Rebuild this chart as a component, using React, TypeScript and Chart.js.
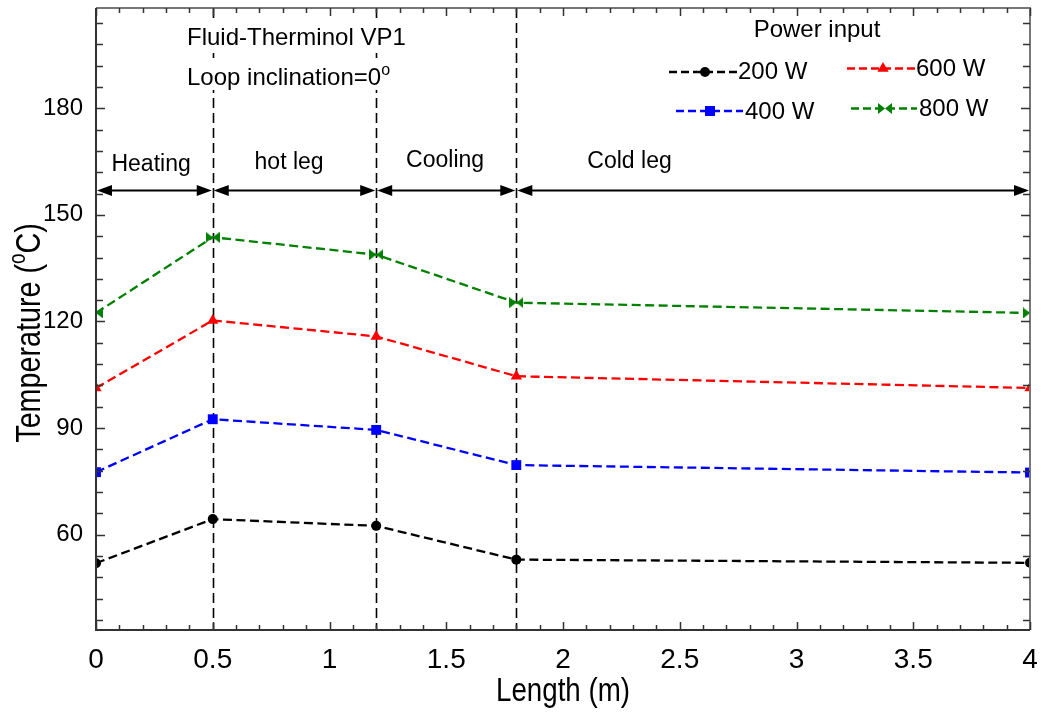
import React, { useEffect, useRef } from "react";
import { Chart, registerables } from "chart.js";

Chart.register(...registerables);

// ---- data ----
const lengths = [0, 0.5, 1.2, 1.8, 4];
const t200 = [52.0, 64.4, 62.5, 53.0, 52.1];
const t400 = [77.6, 92.5, 89.5, 79.6, 77.5];
const t600 = [101.3, 120.3, 115.8, 104.6, 101.3];
const t800 = [122.4, 143.7, 138.8, 125.3, 122.4];
const seriesLabels = ["200 W", "400 W", "600 W", "800 W"];
const seriesColors = ["#000000", "#0000FF", "#FF0000", "#008000"];
const yTickValues = [60, 90, 120, 150, 180];
const dividerX = [0.5, 1.2, 1.8];
const sectionBounds = [0, 0.5, 1.2, 1.8, 4];
const sectionNames = ["Heating", "hot leg", "Cooling", "Cold leg"];
const sectionLabelX = [0.236, 0.827, 1.495, 2.285];
const sectionLabelY = [162.4, 163.0, 163.6, 163.3];
const arrowLevel = 157;
const infoLines = ["Fluid-Therminol VP1", "Loop inclination=0"];
const legendTitle = "Power input";
const xTitle = "Length (m)";

const SANS = "'Liberation Sans', Arial, sans-serif";

function makeBowtie(color: string) {
  const c = document.createElement("canvas");
  c.width = 14;
  c.height = 11;
  const g = c.getContext("2d")!;
  g.fillStyle = color;
  g.beginPath();
  g.moveTo(0, 0);
  g.lineTo(7, 5.5);
  g.lineTo(0, 11);
  g.closePath();
  g.fill();
  g.beginPath();
  g.moveTo(14, 0);
  g.lineTo(7, 5.5);
  g.lineTo(14, 11);
  g.closePath();
  g.fill();
  return c;
}

function drawMarker(ctx: CanvasRenderingContext2D, kind: string, x: number, y: number, color: string) {
  ctx.fillStyle = color;
  ctx.beginPath();
  if (kind === "circle") {
    ctx.arc(x, y, 5, 0, Math.PI * 2);
    ctx.fill();
  } else if (kind === "rect") {
    ctx.fillRect(x - 5, y - 5, 10, 10);
  } else if (kind === "triangle") {
    const r = 6.5;
    ctx.moveTo(x, y - r);
    ctx.lineTo(x + r * Math.sin((2 * Math.PI) / 3), y - r * Math.cos((2 * Math.PI) / 3));
    ctx.lineTo(x + r * Math.sin((4 * Math.PI) / 3), y - r * Math.cos((4 * Math.PI) / 3));
    ctx.closePath();
    ctx.fill();
  } else {
    ctx.moveTo(x - 7, y - 5.5);
    ctx.lineTo(x, y);
    ctx.lineTo(x - 7, y + 5.5);
    ctx.closePath();
    ctx.moveTo(x + 7, y - 5.5);
    ctx.lineTo(x, y);
    ctx.lineTo(x + 7, y + 5.5);
    ctx.closePath();
    ctx.fill();
  }
}

function drawSupText(
  ctx: CanvasRenderingContext2D,
  main: string,
  sup: string,
  after: string,
  x: number,
  y: number,
  size: number,
  align: "left" | "center"
) {
  ctx.font = `${size}px ${SANS}`;
  const w1 = ctx.measureText(main).width;
  const w3 = ctx.measureText(after).width;
  const supSize = Math.round(size * 0.66);
  ctx.font = `${supSize}px ${SANS}`;
  const w2 = ctx.measureText(sup).width;
  const total = w1 + w2 + w3;
  const sx = align === "center" ? x - total / 2 : x;
  ctx.textAlign = "left";
  ctx.textBaseline = "alphabetic";
  ctx.font = `${size}px ${SANS}`;
  ctx.fillText(main, sx, y);
  ctx.font = `${supSize}px ${SANS}`;
  ctx.fillText(sup, sx + w1, y - size * 0.42);
  ctx.font = `${size}px ${SANS}`;
  ctx.fillText(after, sx + w1 + w2, y);
  return total;
}

const annotPlugin = {
  id: "annot",
  beforeDatasetsDraw(chart: any) {
    const { ctx, chartArea: ca, scales } = chart;
    const x = scales.x;
    const y = scales.y;
    ctx.save();
    // vertical dividers
    ctx.strokeStyle = "#000";
    ctx.lineWidth = 1.6;
    ctx.setLineDash([10, 5]);
    for (const d of dividerX) {
      const px = Math.round(x.getPixelForValue(d)) + 0.5;
      ctx.beginPath();
      ctx.moveTo(px, ca.top);
      ctx.lineTo(px, ca.bottom);
      ctx.stroke();
    }
    ctx.setLineDash([]);

    // double arrows
    const ay = Math.round(y.getPixelForValue(arrowLevel)) + 0.5;
    ctx.lineWidth = 2;
    ctx.fillStyle = "#000";
    ctx.strokeStyle = "#000";
    const hl = 15;
    const hw = 5.5;
    for (let i = 0; i < sectionBounds.length - 1; i++) {
      const a = x.getPixelForValue(sectionBounds[i]) + 1;
      const b = x.getPixelForValue(sectionBounds[i + 1]) - 1;
      ctx.beginPath();
      ctx.moveTo(a + 8, ay);
      ctx.lineTo(b - 8, ay);
      ctx.stroke();
      ctx.beginPath();
      ctx.moveTo(a, ay);
      ctx.lineTo(a + hl, ay - hw);
      ctx.lineTo(a + hl, ay + hw);
      ctx.closePath();
      ctx.fill();
      ctx.beginPath();
      ctx.moveTo(b, ay);
      ctx.lineTo(b - hl, ay - hw);
      ctx.lineTo(b - hl, ay + hw);
      ctx.closePath();
      ctx.fill();
    }

    // section labels
    ctx.font = `23px ${SANS}`;
    ctx.textAlign = "center";
    ctx.textBaseline = "alphabetic";
    for (let i = 0; i < sectionNames.length; i++) {
      ctx.fillText(sectionNames[i], x.getPixelForValue(sectionLabelX[i]), y.getPixelForValue(sectionLabelY[i]));
    }

    // info text with white background
    ctx.fillStyle = "#fff";
    ctx.fillRect(184, 22, 224, 28);
    ctx.fillRect(184, 58, 224, 32);
    ctx.fillStyle = "#000";
    ctx.font = `24px ${SANS}`;
    ctx.textAlign = "left";
    ctx.fillText(infoLines[0], 187, 45);
    drawSupText(ctx, infoLines[1], "o", "", 187, 85, 24, "left");
    ctx.restore();
  },
  afterDraw(chart: any) {
    const { ctx, chartArea: ca, scales } = chart;
    const x = scales.x;
    const y = scales.y;
    ctx.save();
    // frame
    ctx.lineWidth = 2;
    ctx.strokeStyle = "#777";
    ctx.beginPath();
    ctx.moveTo(ca.left, ca.top);
    ctx.lineTo(ca.right, ca.top);
    ctx.lineTo(ca.right, ca.bottom);
    ctx.stroke();
    ctx.strokeStyle = "#333";
    ctx.beginPath();
    ctx.moveTo(ca.left, ca.top);
    ctx.lineTo(ca.left, ca.bottom);
    ctx.lineTo(ca.right, ca.bottom);
    ctx.stroke();

    // inward ticks
    ctx.lineWidth = 1.5;
    ctx.strokeStyle = "#333";
    for (let i = 0; i <= 40; i++) {
      const px = Math.round(x.getPixelForValue(i / 10)) + 0.5;
      const len = i % 5 === 0 ? 8 : 5;
      ctx.beginPath();
      ctx.moveTo(px, ca.bottom);
      ctx.lineTo(px, ca.bottom - len);
      ctx.moveTo(px, ca.top);
      ctx.lineTo(px, ca.top + len);
      ctx.stroke();
    }
    for (let v = 36; v <= 204; v += 6) {
      const py = Math.round(y.getPixelForValue(v)) + 0.5;
      const len = (v - 60) % 30 === 0 ? 9 : 7;
      ctx.beginPath();
      ctx.moveTo(ca.left, py);
      ctx.lineTo(ca.left + len, py);
      ctx.moveTo(ca.right, py);
      ctx.lineTo(ca.right - len, py);
      ctx.stroke();
    }

    // y title (rotated, condensed)
    ctx.save();
    ctx.translate(40, 333);
    ctx.rotate(-Math.PI / 2);
    ctx.scale(0.82, 1);
    ctx.fillStyle = "#000";
    drawSupText(ctx, "Temperature (", "o", "C)", 0, 0, 35, "center");
    ctx.restore();

    // x title (condensed)
    ctx.save();
    ctx.translate((ca.left + ca.right) / 2, 701);
    ctx.scale(0.84, 1);
    ctx.fillStyle = "#000";
    ctx.font = `33px ${SANS}`;
    ctx.textAlign = "center";
    ctx.textBaseline = "alphabetic";
    ctx.fillText(xTitle, 0, 0);
    ctx.restore();

    // legend
    ctx.fillStyle = "#000";
    ctx.font = `24px ${SANS}`;
    ctx.textAlign = "center";
    ctx.textBaseline = "alphabetic";
    ctx.fillText(legendTitle, 817, 37);
    const entries = [
      { i: 0, x1: 669, x2: 737, ly: 72, mx: 705, tx: 738, by: 79, kind: "circle" },
      { i: 2, x1: 847, x2: 915, ly: 68.5, mx: 883, tx: 916, by: 76, kind: "triangle" },
      { i: 1, x1: 676, x2: 743, ly: 111, mx: 710, tx: 745, by: 119, kind: "rect" },
      { i: 3, x1: 851, x2: 917, ly: 108.5, mx: 885, tx: 919, by: 116, kind: "bowtie" },
    ];
    for (const e of entries) {
      const color = seriesColors[e.i];
      ctx.strokeStyle = color;
      ctx.lineWidth = 2.3;
      ctx.setLineDash([8, 4]);
      ctx.beginPath();
      ctx.moveTo(e.x1, e.ly);
      ctx.lineTo(e.x2, e.ly);
      ctx.stroke();
      ctx.setLineDash([]);
      drawMarker(ctx, e.kind, e.mx, e.ly, color);
      ctx.fillStyle = "#000";
      ctx.font = `24px ${SANS}`;
      ctx.textAlign = "left";
      ctx.fillText(seriesLabels[e.i], e.tx, e.by);
    }
    ctx.restore();
  },
};

function zeroPad(s: any) {
  s.paddingTop = 0;
  s.paddingBottom = 0;
  s.paddingLeft = 0;
  s.paddingRight = 0;
}

export default function App() {
  const ref = useRef<HTMLCanvasElement | null>(null);

  useEffect(() => {
    if (!ref.current) return;
    const bow = makeBowtie(seriesColors[3]);
    const mk = (vals: number[], i: number, style: any, radius: number) => ({
      label: seriesLabels[i],
      data: lengths.map((l, k) => ({ x: l, y: vals[k] })),
      borderColor: seriesColors[i],
      backgroundColor: seriesColors[i],
      borderWidth: 2.3,
      borderDash: [9, 4.5],
      pointStyle: style,
      pointRadius: radius,
      pointBorderWidth: 0,
      pointBackgroundColor: seriesColors[i],
      tension: 0,
      clip: 0,
    });
    const chart = new Chart(ref.current, {
      type: "line",
      data: {
        datasets: [
          mk(t200, 0, "circle", 5),
          mk(t400, 1, "rect", 7),
          mk(t600, 2, "triangle", 6.5),
          mk(t800, 3, bow, 6),
        ],
      },
      options: {
        animation: false,
        responsive: true,
        maintainAspectRatio: false,
        layout: { padding: { top: 8, right: 11, left: 0, bottom: 0 } },
        plugins: { legend: { display: false }, tooltip: { enabled: false } },
        scales: {
          x: {
            type: "linear",
            min: 0,
            max: 4,
            grid: { display: false },
            border: { display: false },
            ticks: {
              stepSize: 0.5,
              autoSkip: false,
              maxRotation: 0,
              padding: 5,
              color: "#000",
              font: { family: SANS, size: 28 },
              callback: (v: any) => String(Number(v)),
            },
            title: { display: false },
            afterFit: (s: any) => {
              s.height = 83;
              zeroPad(s);
            },
          },
          y: {
            type: "linear",
            min: 33.2,
            max: 208.2,
            grid: { display: false },
            border: { display: false },
            afterBuildTicks: (s: any) => {
              s.ticks = yTickValues.map((v) => ({ value: v }));
            },
            ticks: {
              padding: 5,
              color: "#000",
              font: { family: SANS, size: 24 },
            },
            afterFit: (s: any) => {
              s.width = 96;
              zeroPad(s);
            },
          },
        },
      },
      plugins: [annotPlugin],
    });
    return () => chart.destroy();
  }, []);

  return (
    <div style={{ position: "fixed", left: 0, top: 0, width: 1041, height: 713, background: "#fff" }}>
      <canvas ref={ref} />
    </div>
  );
}
